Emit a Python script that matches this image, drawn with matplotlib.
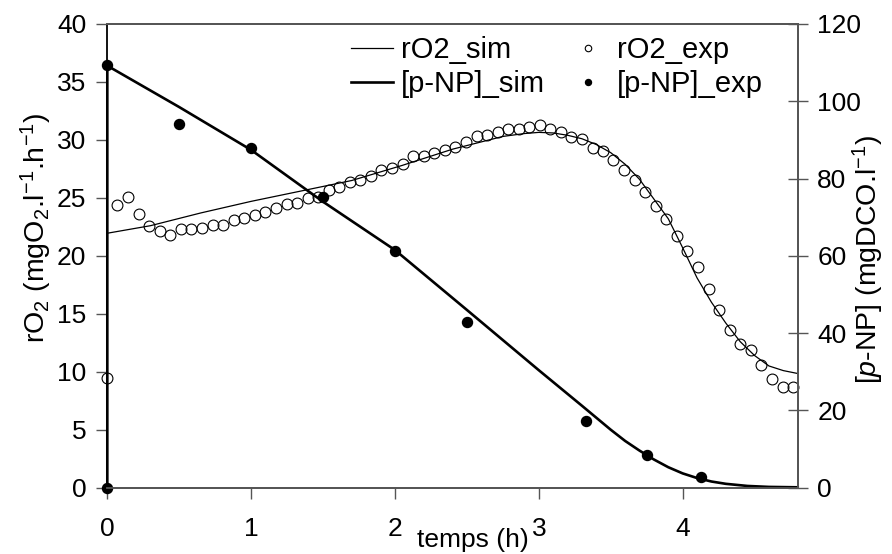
import matplotlib
matplotlib.use('Agg')
import matplotlib.pyplot as plt

plt.rcParams['font.family'] = ['Liberation Sans', 'DejaVu Sans']
plt.rcParams['mathtext.fontset'] = 'custom'
plt.rcParams['mathtext.rm'] = 'Liberation Sans'
plt.rcParams['mathtext.it'] = 'Liberation Sans:italic'

# ---- data ----
t_o2_exp = [0, 0.07, 0.144, 0.218, 0.292, 0.366, 0.438, 0.512, 0.584, 0.658,
            0.733, 0.807, 0.879, 0.951, 1.025, 1.099, 1.173, 1.248, 1.319, 1.394,
            1.467, 1.54, 1.613, 1.688, 1.76, 1.834, 1.906, 1.98, 2.054, 2.128,
            2.2, 2.274, 2.346, 2.42, 2.494, 2.569, 2.64, 2.715, 2.789, 2.861,
            2.935, 3.007, 3.079, 3.153, 3.227, 3.3, 3.376, 3.445, 3.519, 3.593,
            3.667, 3.741, 3.816, 3.887, 3.96, 4.033, 4.108, 4.182, 4.256, 4.33,
            4.402, 4.476, 4.548, 4.622, 4.697, 4.77]
o2_exp = [9.5, 24.4, 25.06, 23.65, 22.6, 22.1, 21.8, 22.3, 22.3, 22.4,
          22.7, 22.7, 23.1, 23.3, 23.5, 23.8, 24.1, 24.5, 24.6, 25.0,
          25.1, 25.7, 25.9, 26.35, 26.55, 26.9, 27.4, 27.6, 27.9, 28.6,
          28.65, 28.9, 29.1, 29.4, 29.85, 30.3, 30.4, 30.7, 30.95, 30.95,
          31.1, 31.25, 30.9, 30.7, 30.26, 30.06, 29.34, 29.05, 28.28, 27.4,
          26.55, 25.54, 24.3, 23.2, 21.75, 20.46, 19.08, 17.16, 15.34, 13.62,
          12.41, 11.84, 10.6, 9.37, 8.68, 8.65]

t_o2_sim = [0, 0.3, 0.65, 1.0, 1.35, 1.7, 2.05, 2.4, 2.75, 2.9, 3.0, 3.1, 3.2,
            3.3, 3.4, 3.5, 3.6, 3.7, 3.8, 3.9, 4.0, 4.1, 4.2, 4.3, 4.4, 4.5,
            4.6, 4.7, 4.8]
o2_sim = [21.95, 22.6, 23.7, 24.7, 25.6, 26.5, 27.8, 29.2, 30.3, 30.55, 30.65,
          30.6, 30.4, 30.1, 29.6, 28.9, 27.9, 26.6, 24.9, 23.2, 20.7, 18.1, 16.0,
          14.2, 12.6, 11.4, 10.5, 10.1, 9.85]

t_pnp_exp = [0, 0, 0.5, 1.0, 1.5, 2.0, 2.5, 3.33, 3.75, 4.13]
pnp_exp = [0, 109.3, 94.0, 88.0, 75.2, 61.3, 42.8, 17.3, 8.5, 2.7]

t_pnp_sim = [0, 0, 0.5, 1.0, 1.5, 2.0, 2.5, 3.0, 3.3, 3.5, 3.6, 3.7, 3.8,
             3.9, 4.0, 4.1, 4.2, 4.3, 4.45, 4.6, 4.8]
pnp_sim = [0, 109.2, 98.5, 87.4, 74.0, 61.5, 46.0, 30.4, 21.2, 15.0, 12.1,
           9.6, 7.3, 5.3, 3.7, 2.5, 1.6, 1.0, 0.45, 0.2, 0.1]

x_ticks = [0, 1, 2, 3, 4]
left_ticks = [0, 5, 10, 15, 20, 25, 30, 35, 40]
right_ticks = [0, 20, 40, 60, 80, 100, 120]

FS = 19
SPC = '#555555'

fig = plt.figure(figsize=(8.92, 5.54), dpi=100)
ax = fig.add_axes([0.1203, 0.1197, 0.7740, 0.8370])
ax2 = ax.twinx()

l1, = ax.plot(t_o2_sim, o2_sim, color='black', lw=0.9, label='rO2_sim', clip_on=False)
l3, = ax.plot(t_o2_exp, o2_exp, ls='none', marker='o', ms=7.8, mfc='none',
              mec='black', mew=0.8, label='rO2_exp', clip_on=False)
l2, = ax2.plot(t_pnp_sim, pnp_sim, color='black', lw=1.9, label='[p-NP]_sim', clip_on=False)
l4, = ax2.plot(t_pnp_exp, pnp_exp, ls='none', marker='o', ms=7.2, color='black',
               label='[p-NP]_exp', clip_on=False)

ax.set_xlim(0, 4.80)
ax.set_ylim(0, 40)
ax2.set_ylim(0, 120)
ax.set_xticks(x_ticks)
ax.set_yticks(left_ticks)
ax2.set_yticks(right_ticks)

for a in (ax, ax2):
    for s in a.spines.values():
        s.set_color(SPC)
        s.set_linewidth(1.3)
ax.spines['left'].set_color('black')
ax2.spines['left'].set_visible(False)

ax.tick_params(axis='x', direction='out', length=8, width=1, color=SPC,
               labelsize=FS, pad=13)
ax.tick_params(axis='y', direction='out', length=8, width=1, color=SPC,
               labelsize=FS, pad=7)
ax2.tick_params(axis='y', direction='inout', length=14, width=1, color=SPC,
                labelsize=FS, pad=7)

ax.text(0.53, -0.113, 'temps (h)', transform=ax.transAxes, ha='center',
        va='center', fontsize=FS)
fig.text(36 / 892, 1 - 228 / 554, r'rO$_2$ (mgO$_2$.l$^{-1}$.h$^{-1}$)',
         rotation=90, ha='center', va='center', fontsize=20.5)
fig.text(868 / 892, 1 - 260 / 554, r'[$p$-NP] (mgDCO.l$^{-1}$)',
         rotation=90, ha='center', va='center', fontsize=20.5)

leg = ax2.legend(handles=[l1, l2, l3, l4], ncol=2, frameon=False,
                 fontsize=21, loc='upper left',
                 bbox_to_anchor=((351 - 107.3) / 690.4, 1 - (36 - 24) / 463.7),
                 borderpad=0, borderaxespad=0, handlelength=1.44,
                 handletextpad=0.28, columnspacing=0.75, labelspacing=0.22,
                 markerscale=0.6)

fig.savefig('out.png', dpi=100)
